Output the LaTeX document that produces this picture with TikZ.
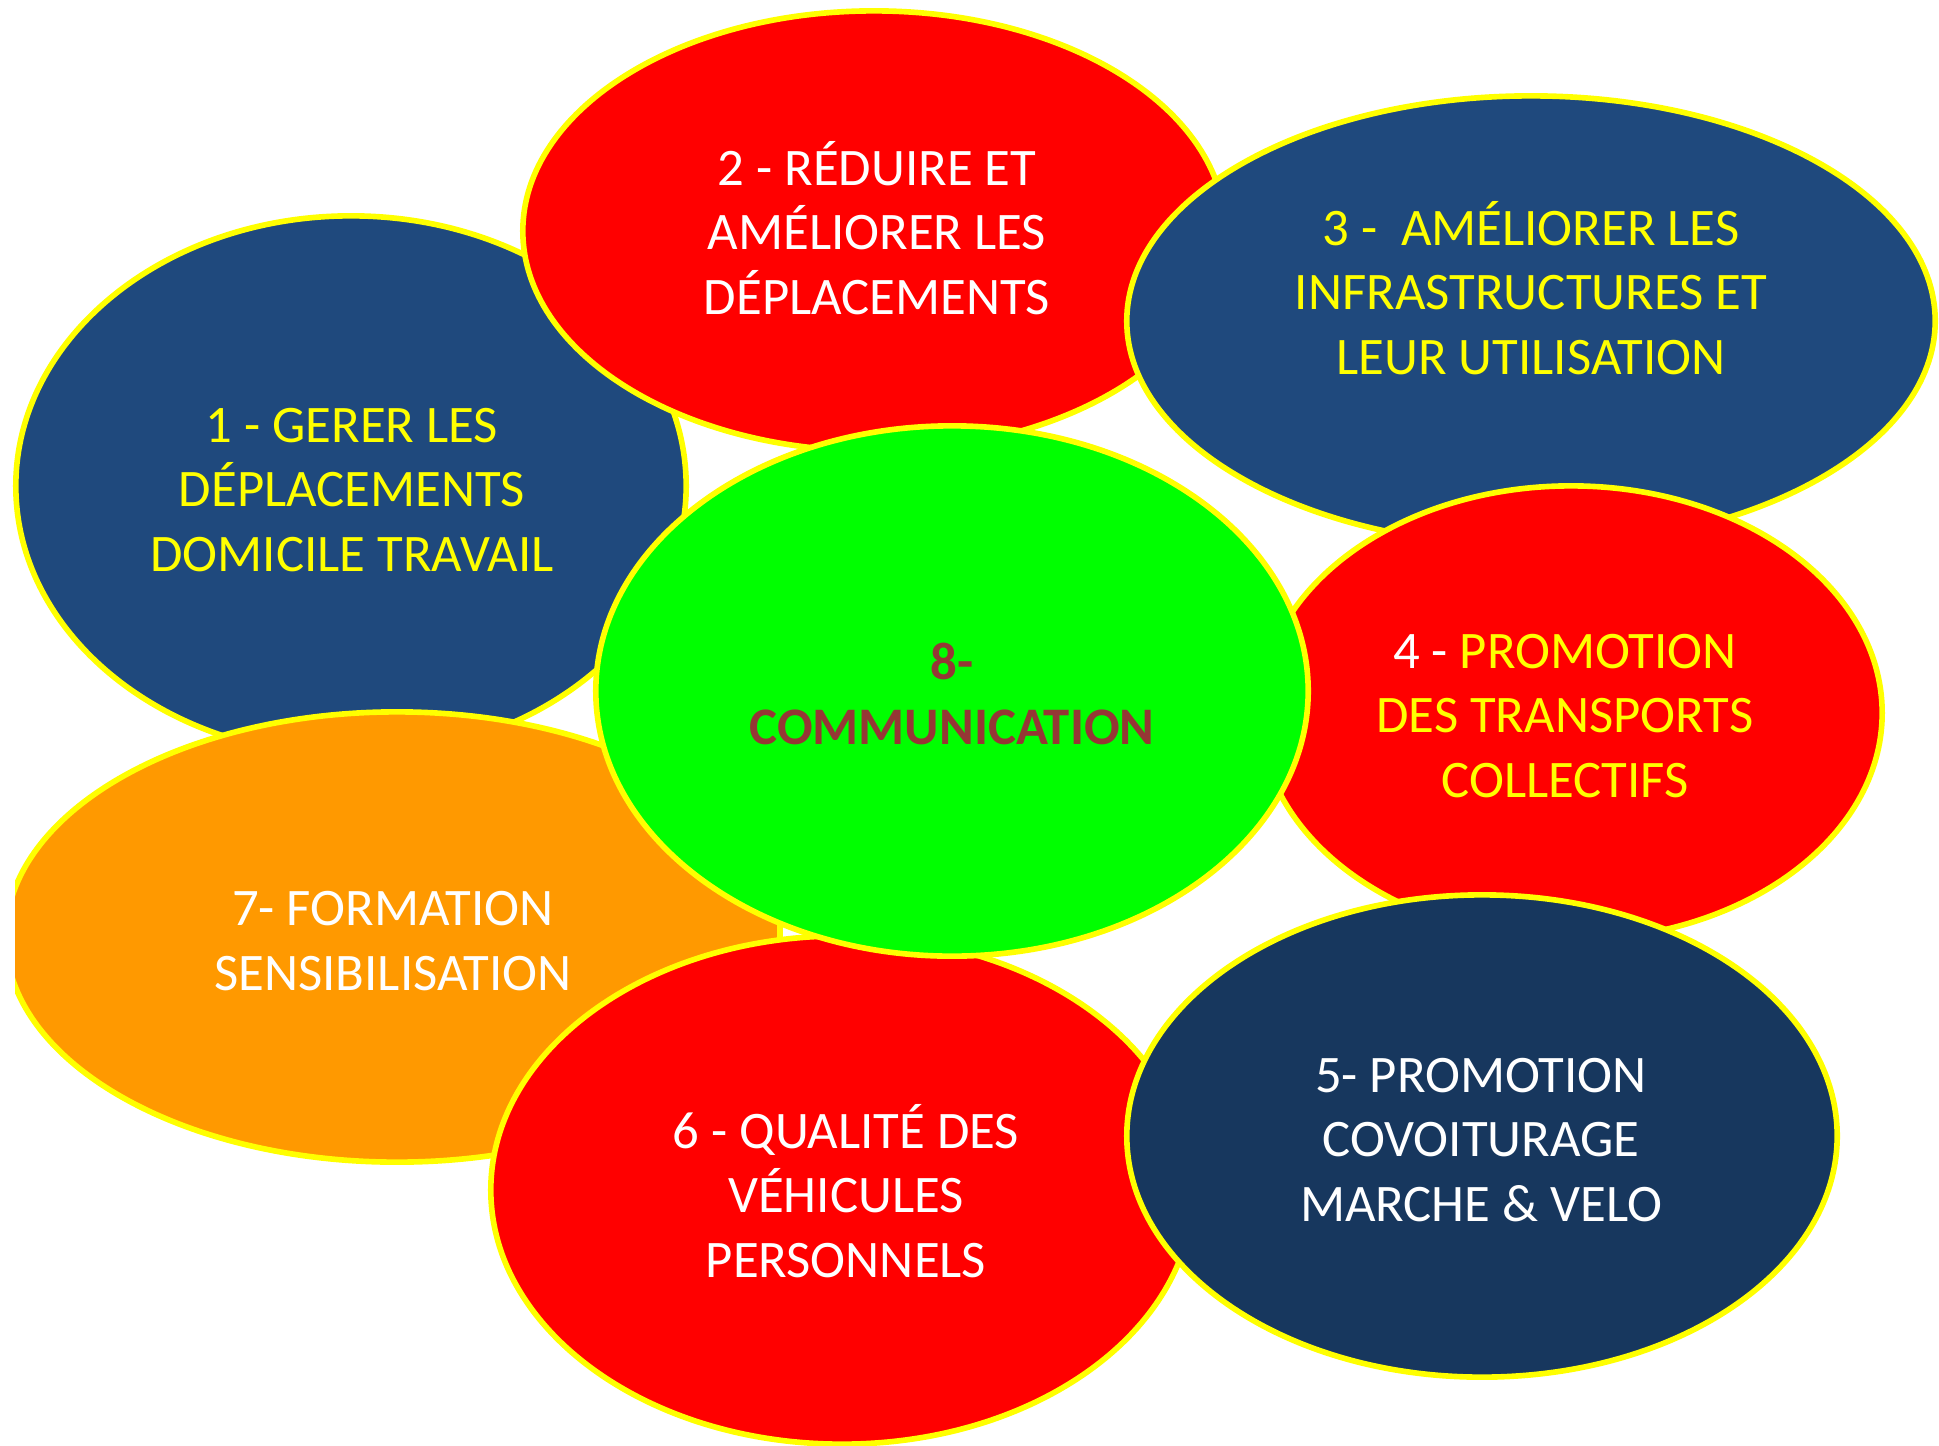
\documentclass[tikz,border=0pt]{standalone}
\usepackage{fontspec}
\setmainfont{Carlito}
\usetikzlibrary{positioning,shapes.geometric}
\definecolor{pdblue}{HTML}{1F497D}
\definecolor{pdnavy}{HTML}{17375E}
\definecolor{pdred}{HTML}{FF0000}
\definecolor{pdgreen}{HTML}{00FF00}
\definecolor{pdorange}{HTML}{FF9900}
\definecolor{pdyellow}{HTML}{FFFF00}
\definecolor{pdbrown}{HTML}{953735}
\tikzset{
  blob/.style   ={ellipse, draw=pdyellow, line width=1.6pt, inner sep=0pt},
  sz/.style 2 args={minimum width=#1, minimum height=#2},
  txt/.style    ={font=\fontsize{15pt}{18.3pt}\selectfont, align=center, inner sep=0pt},
}
\begin{document}
\begin{tikzpicture}[x=0.01cm,y=-0.01cm]
    \useasboundingbox (0,0) rectangle (1939,1445);
    % --- outer ring, back to front ---
    \node[blob,fill=pdblue,sz={6.70cm}{5.40cm}] (e1) at (351,486) {};
    \node[blob,fill=pdred,sz={7.02cm}{4.40cm}] (e2) at (874,231) {};
    \node[blob,fill=pdblue,sz={8.08cm}{4.50cm}] (e3) at (1531,321) {};
    \node[blob,fill=pdred,sz={6.22cm}{4.54cm}] (e4) at (1571,713) {};
    % orange one is cut flat at both sides
    \begin{scope}
      \clip (15,0) rectangle (780,1445);
      \node[blob,fill=pdorange,sz={7.82cm}{4.50cm}] (e7) at (397,937) {};
    \end{scope}
    \draw[pdyellow,line width=1.6pt] (780,890) -- (780,984);
    \node[blob,fill=pdred,sz={7.02cm}{5.08cm}] (e6) at (842,1190) {};
    \node[blob,fill=pdnavy,sz={7.10cm}{4.82cm}] (e5) at (1482,1136) {};
    % --- centre ---
    \node[blob,fill=pdgreen,sz={7.12cm}{5.30cm}] (e8) at (952,691) {};
    % --- labels ---
    \node[txt,text=pdyellow] (t1) at (352,490) {1 - GERER LES\\DÉPLACEMENTS\\DOMICILE TRAVAIL};
    \node[txt,text=white] (t2) at (877,228) {2 - RÉDUIRE ET\\AMÉLIORER LES\\DÉPLACEMENTS};
    \node[txt,text=pdyellow] (t3) at (1531,288) {3 -~ AMÉLIORER LES\\INFRASTRUCTURES ET\\LEUR UTILISATION};
    \node[txt,text=pdyellow] (t4) at (1565,716) {\textcolor{white}{4 -} PROMOTION\\DES TRANSPORTS\\COLLECTIFS};
    \node[txt,text=white] (t5) at (1481,1140) {5- PROMOTION\\COVOITURAGE\\MARCHE \& VELO};
    \node[txt,text=white] (t6) at (846,1191) {6 - QUALITÉ DES\\VÉHICULES\\PERSONNELS};
    \node[txt,text=white] (t7) at (393,941) {7- FORMATION\\SENSIBILISATION};
    \node[txt,text=pdbrown,font=\fontsize{15pt}{18.3pt}\selectfont\bfseries] (t8) at (952,694) {8-\\COMMUNICATION};
\end{tikzpicture}
\end{document}
